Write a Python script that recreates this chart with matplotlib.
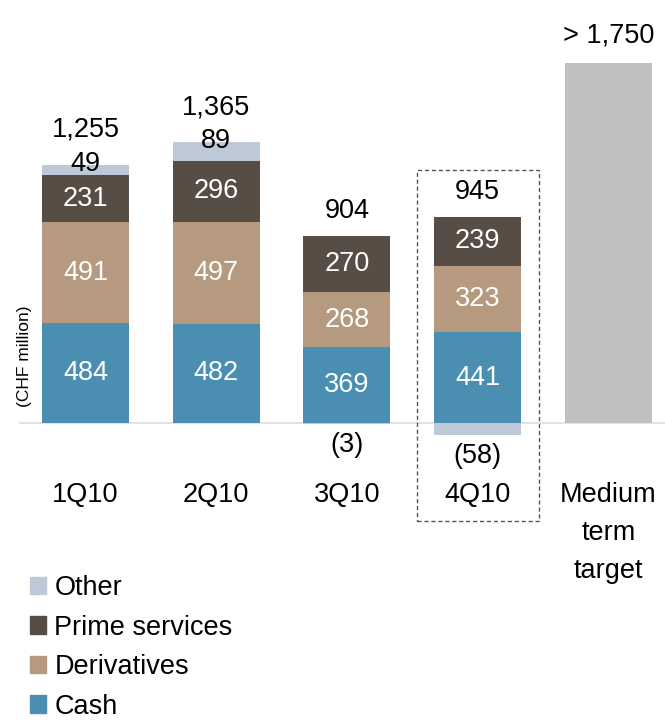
import matplotlib
matplotlib.use("Agg")
import matplotlib.pyplot as plt
from matplotlib.patches import Patch, Rectangle
import numpy as np

plt.rcParams['font.family'] = ['Liberation Sans', 'DejaVu Sans']

categories = ["1Q10", "2Q10", "3Q10", "4Q10"]
cash = [484, 482, 369, 441]
derivatives = [491, 497, 268, 323]
prime = [231, 296, 270, 239]
other = [49, 89, -3, -58]
totals = ["1,255", "1,365", "904", "945"]
target_label = "Medium\nterm\ntarget"
target_value = 1750
target_text = "> 1,750"

c_cash = "#4A8FB2"
c_der = "#B59A7F"
c_prime = "#574D45"
c_other = "#BDC9D6"
c_target = "#C0C0C0"

W, H = 665, 725
fig = plt.figure(figsize=(W / 100, H / 100), dpi=100)
ax = fig.add_axes([0, 0, 1, 1])

spacing = 130.7
x0px = 85.5
scale = 0.2057
base_px = 423
ax.set_xlim(-x0px / spacing, (W - x0px) / spacing)
ax.set_ylim(-(H - base_px) / scale, base_px / scale)
ax.axis('off')

x = np.arange(len(categories))
bw = 0.665
cash_a = np.array(cash)
der_a = np.array(derivatives)
prime_a = np.array(prime)
other_a = np.array(other)

ax.bar(x, cash_a, bw, color=c_cash, zorder=2)
ax.bar(x, der_a, bw, bottom=cash_a, color=c_der, zorder=2)
ax.bar(x, prime_a, bw, bottom=cash_a + der_a, color=c_prime, zorder=2)
pos_top = cash_a + der_a + prime_a
other_bottom = np.where(other_a > 0, pos_top, 0)
ax.bar(x, other_a, bw, bottom=other_bottom, color=c_other, zorder=2)
xt = len(categories)
ax.bar(xt, target_value, bw, color=c_target, zorder=2)

# baseline
ax.axhline(0, xmin=20 / W, xmax=1, color="#DDDDDD", lw=1.2, zorder=1)

fs = 19.5
for i in range(len(categories)):
    ax.text(x[i], cash_a[i] / 2, str(cash[i]), ha='center', va='center', color='white', fontsize=fs, zorder=3)
    ax.text(x[i], cash_a[i] + der_a[i] / 2, str(derivatives[i]), ha='center', va='center', color='white', fontsize=fs, zorder=3)
    ax.text(x[i], cash_a[i] + der_a[i] + prime_a[i] / 2, str(prime[i]), ha='center', va='center', color='white', fontsize=fs, zorder=3)
    top = pos_top[i] + max(other[i], 0)
    if other[i] > 0:
        ax.annotate(str(other[i]), (x[i], top), xytext=(0, 1), textcoords='offset pixels',
                    ha='center', va='center', fontsize=fs, color='black', zorder=3)
        off = 35
    else:
        ax.annotate(f"({-other[i]})", (x[i], other[i]), xytext=(0, -21), textcoords='offset pixels',
                    ha='center', va='center', fontsize=fs, color='black', zorder=3)
        off = 25
    ax.annotate(totals[i], (x[i], top), xytext=(0, off), textcoords='offset pixels',
                ha='center', va='center', fontsize=fs, color='black', zorder=3)
    ax.annotate(categories[i], (x[i], 0), xytext=(0, -72), textcoords='offset pixels',
                ha='center', va='center', fontsize=fs, color='black')

ax.annotate(target_text, (xt, target_value), xytext=(0, 28), textcoords='offset pixels',
            ha='center', va='center', fontsize=fs, color='black')
ax.annotate(target_label, (xt, 0), xytext=(0, -59), textcoords='offset pixels',
            ha='center', va='top', fontsize=fs, color='black', linespacing=1.6)

# dashed highlight box
ax.add_patch(Rectangle((3 - 0.467, -476), 0.934, 1706, fill=False, ls=(0, (3, 2)),
                       lw=1.0, ec="#555555", zorder=4))

# y label
fig.text(25 / W, 1 - 356 / H, "(CHF million)", rotation=90, ha='center', va='center', fontsize=12.5)

handles = [Patch(color=c_other), Patch(color=c_prime), Patch(color=c_der), Patch(color=c_cash)]
labels = ["Other", "Prime services", "Derivatives", "Cash"]
fig.legend(handles, labels, loc='upper left', bbox_to_anchor=(30 / W, 1 - 575 / H), frameon=False,
           fontsize=fs, handlelength=0.6, handleheight=0.6, handletextpad=0.3, labelspacing=0.5,
           borderaxespad=0, borderpad=0)

fig.savefig("out.png", dpi=100)
